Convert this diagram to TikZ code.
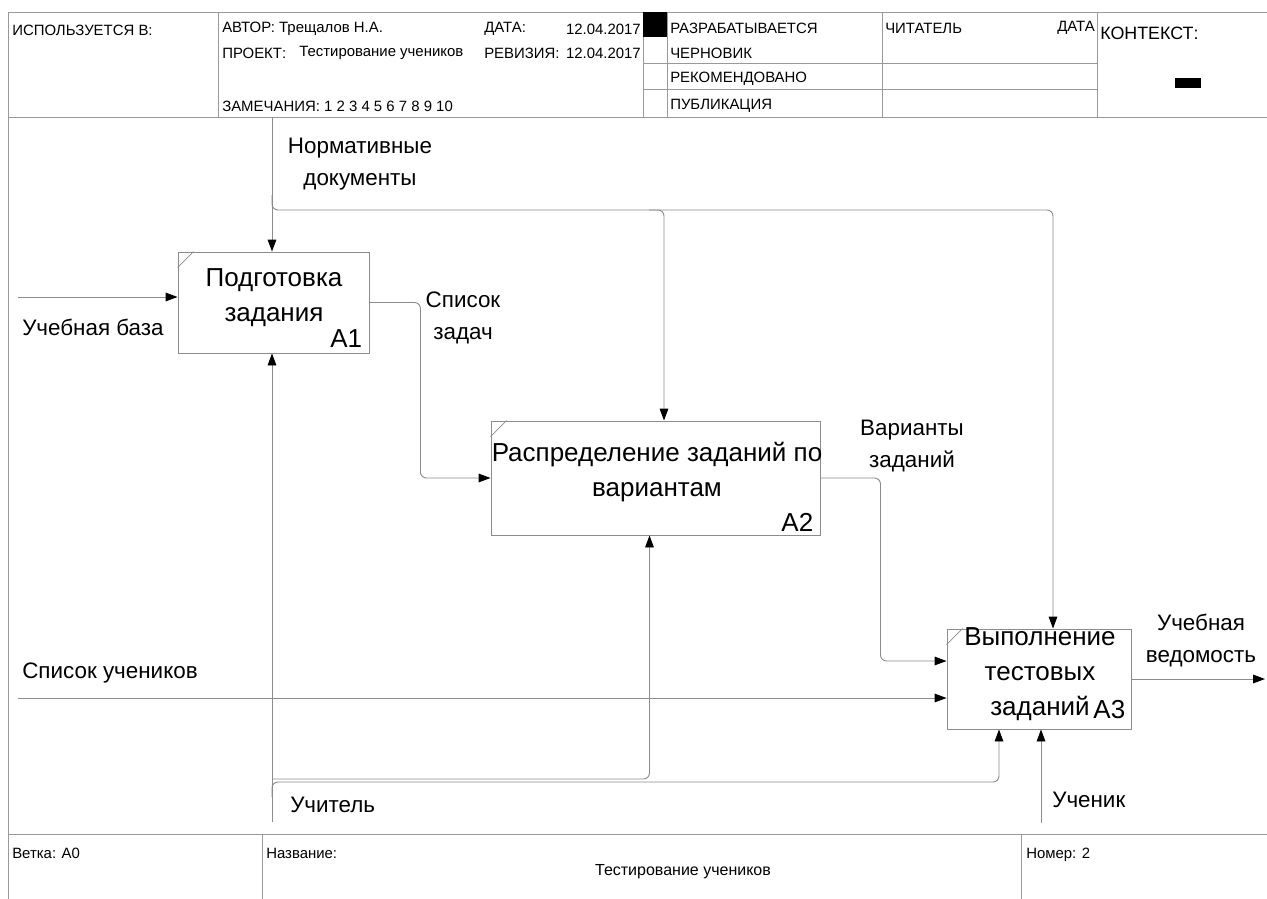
\documentclass[tikz,border=0pt]{standalone}
\usepackage{fontspec}
\setmainfont{Liberation Sans}
\usetikzlibrary{arrows.meta,calc}
\begin{document}
\begin{tikzpicture}[x=0.75pt,y=-0.75pt,
  rule/.style={draw=black!40, line width=0.6pt},
  flow/.style={draw=black!45, line width=0.7pt, rounded corners=4.5pt},
  tip/.style={-{Triangle[length=9pt,width=6.5pt,color=black]}},
  fbox/.style={draw=black!45, line width=0.7pt, inner sep=0pt},
  corner/.style={draw=black!45, line width=0.5pt},
  boxtext/.style={font=\fontsize{19.5}{26}\selectfont, align=center, inner sep=0pt},
  boxnum/.style={font=\fontsize{19.5}{26}\selectfont, inner sep=0pt, anchor=south east},
  lbl/.style={font=\fontsize{16.8}{24}\selectfont, align=center, inner sep=0pt},
  hdr/.style={font=\fontsize{11.2}{13}\selectfont, inner sep=0pt, anchor=west},
]
\useasboundingbox (0,0) rectangle (1267,899);

% ---- title block (top) ----
\draw[rule] (8,899) -- (8,12) -- (1267,12);
\draw[rule] (8,117) -- (1267,117);
\foreach \xx in {218,643,667,882,1097} \draw[rule] (\xx,12) -- (\xx,117);
\draw[rule] (643,63) -- (1097,63);
\draw[rule] (643,89) -- (1097,89);
\fill (643,12) rectangle (667,37);
\fill (1175,78) rectangle (1201,88);

\node[hdr] (usedin) at (12,30) {ИСПОЛЬЗУЕТСЯ В:};
\node[hdr] (author) at (222,29) {АВТОР: Трещалов Н.А.};
\node[hdr] (project) at (222,53) {ПРОЕКТ:};
\node[hdr] (projname) at (299,53) {Тестирование учеников};
\node[hdr] (notes) at (222,106) {ЗАМЕЧАНИЯ: 1 2 3 4 5 6 7 8 9 10};
\node[hdr] (datek) at (484,29) {ДАТА:};
\node[hdr, anchor=east] (datev) at (641,29) {12.04.2017};
\node[hdr] (revk) at (484,53) {РЕВИЗИЯ:};
\node[hdr, anchor=east] (revv) at (641,53) {12.04.2017};
\node[hdr] (st1) at (670,28) {РАЗРАБАТЫВАЕТСЯ};
\node[hdr] (st2) at (670,53) {ЧЕРНОВИК};
\node[hdr] (st3) at (670,79) {РЕКОМЕНДОВАНО};
\node[hdr] (st4) at (670,106) {ПУБЛИКАЦИЯ};
\node[hdr] (reader) at (885,28) {ЧИТАТЕЛЬ};
\node[hdr, anchor=east] (rdate) at (1095,28) {ДАТА};
\node[hdr, font=\fontsize{13.4}{15}\selectfont] (context) at (1100,33) {КОНТЕКСТ:};

% ---- title block (bottom) ----
\draw[rule] (8,834) -- (1267,834);
\draw[rule] (262,834) -- (262,899);
\draw[rule] (1021,834) -- (1021,899);
\node[hdr] (node) at (12,853) {Ветка: A0};
\node[hdr] (title) at (266,853) {Название:};
\node[hdr, anchor=center, font=\fontsize{12}{14}\selectfont] (titlev) at (683,872) {Тестирование учеников};
\node[hdr] (number) at (1026,855) {Номер: 2};

% ---- activity boxes ----
\node[fbox, minimum width=143.25pt, minimum height=75.75pt] (A1) at (273.5,302.5) {};
\node[fbox, minimum width=246.75pt, minimum height=85.5pt] (A2) at (655.5,478) {};
\node[fbox, minimum width=138pt, minimum height=75pt] (A3) at (1039,679) {};
\foreach \b in {A1,A2,A3}
  \draw[corner] ($(\b.north west)+(0,16)$) -- ($(\b.north west)+(16,0)$);

\node[boxtext] (A1t) at (274,297.5) {Подготовка\\задания};
\node[boxnum] (A1n) at ($(A1.south east)+(-7,-6)$) {A1};
\node[boxtext] (A2t) at (657,472) {Распределение заданий по\\вариантам};
\node[boxnum] (A2n) at ($(A2.south east)+(-7,-4)$) {A2};
\node[boxtext] (A3t) at (1040,674) {Выполнение\\тестовых\\заданий};
\node[boxnum] (A3n) at ($(A3.south east)+(-6,-10)$) {A3};

% ---- arrow labels ----
\node[lbl] (lnd) at (360,164) {Нормативные\\документы};
\node[lbl] (lsz) at (463,318) {Список\\задач};
\node[lbl] (lvz) at (912,446) {Варианты\\заданий};
\node[lbl] (lov) at (1201,641) {Учебная\\ведомость};
\node[lbl, anchor=west] (lub) at (22,327) {Учебная база};
\node[lbl, anchor=west] (lsu) at (22,673) {Список учеников};
\node[lbl, anchor=west] (lut) at (290,805) {Учитель};
\node[lbl, anchor=west] (lst) at (1052,800) {Ученик};

% ---- free ends and junctions ----
\coordinate (nd) at (272,117);
\coordinate (ndbus) at (272,210);
\coordinate (c2) at ($(A2.north)+(8.5,0)$);
\coordinate (c3) at ($(A3.north)+(14,0)$);
\coordinate (ub) at (18,297);
\coordinate (su) at (18,698);
\coordinate (i3a) at ($(A3.west)+(0,-18)$);
\coordinate (vo) at (1265,679);
\coordinate (ut) at (272,822);
\coordinate (m2) at ($(A2.south)+(-6,0)$);
\coordinate (m3) at ($(A3.south)+(-40,0)$);
\coordinate (ubus2) at (272,779);
\coordinate (ubus3) at (272,782);
\coordinate (sd) at (1041,823);

% controls
\draw[flow, tip] (nd) -- (nd |- A1.north);
\draw[flow, tip] ($(ndbus)+(0,-15)$) -- (ndbus) -- (ndbus -| c3) -- (c3);
\draw[flow, tip] ($(ndbus -| c2)+(-15,0)$) -- (ndbus -| c2) -- (c2);

% inputs and outputs
\draw[flow, tip] (ub) -- (ub -| A1.west);
\draw[flow, tip] (A1.east) -- ($(A1.east)+(51,0)$) |- (A2.west);
\draw[flow, tip] (A2.east) -- ($(A2.east)+(60,0)$) |- (i3a);
\draw[flow, tip] (su) -- (su -| A3.west);
\draw[flow, tip] (A3.east) -- (vo);

% mechanisms
\draw[flow, tip] (ut) -- (ut |- A1.south);
\draw[flow, tip] (ubus2) -- (ubus2 -| m2) -- (m2);
\draw[flow, tip] ($(ubus3)+(0,15)$) -- (ubus3) -- (ubus3 -| m3) -- (m3);
\draw[flow, tip] (sd) -- (sd |- A3.south);
\end{tikzpicture}
\end{document}
